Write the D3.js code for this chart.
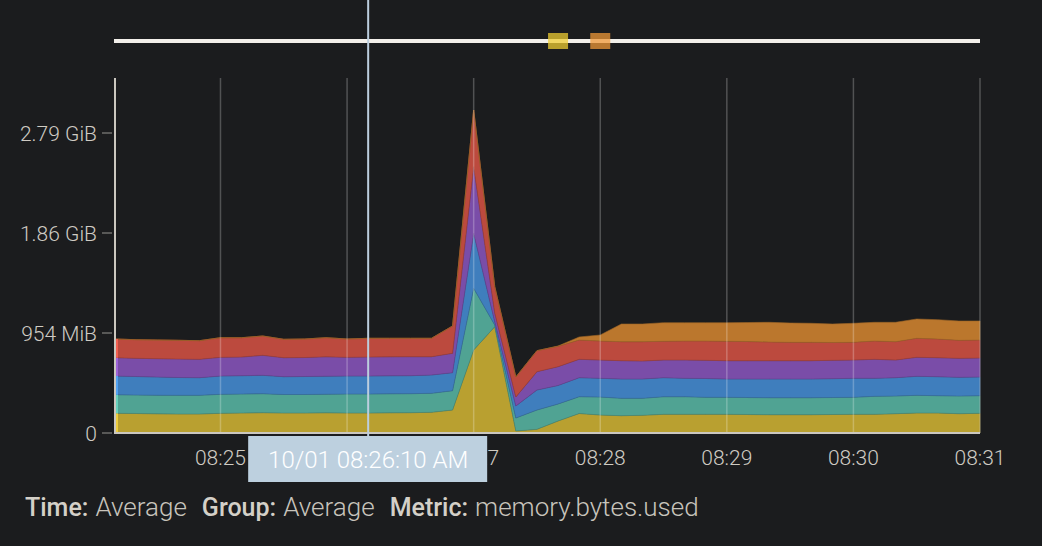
<!DOCTYPE html>
<head>
    <meta charset="utf-8">
    <style>
      body {
          margin: 0;
          background: #1b1c1e;
          font-family: 'Roboto', sans-serif;
      }
      svg { display: block; }
      .tick-label {
        fill: #cfcbc3;
        font-size: 21px;
        font-weight: 300;
      }
      .grid {
        stroke: rgba(255, 255, 255, 0.24);
        stroke-width: 1.5px;
      }
      .axis-line {
        stroke: #cbc7bf;
        stroke-width: 2px;
      }
  </style>
</head>
<body>
<svg id="chart" width="1042" height="546"></svg>
<script src="https://cdn.jsdelivr.net/npm/d3@7"></script>
<script>
  // samples every 10 s from 08:24:10 to 08:31:00, values in MB (1e6 bytes)
  var startTime = new Date(2019, 9, 1, 8, 24, 10);
  var endTime = new Date(2019, 9, 1, 8, 31, 0);
  var cursorTime = new Date(2019, 9, 1, 8, 26, 10);

  var yellow = [197,195,192,190,190,197,200,203,200,200,202,200,200,202,203,207,230,830,1063,20,37,120,195,180,173,177,187,187,187,187,185,183,183,183,185,187,187,193,200,200,193,197];
  var teal   = [186,185,186,187,187,190,190,190,185,185,186,190,190,190,190,190,193,617,17,130,193,170,168,180,174,170,176,176,170,170,170,170,170,170,170,170,180,177,177,173,177,176];
  var blue   = [187,185,182,178,176,183,183,184,178,180,180,180,180,180,180,183,180,550,33,120,200,185,190,187,193,193,190,184,188,183,185,187,187,187,188,190,180,183,190,190,187,187];
  var purple = [183,182,183,185,184,187,187,200,190,190,194,187,190,190,190,183,194,666,87,90,183,188,184,183,183,180,177,183,182,183,183,183,183,183,184,183,190,177,190,190,190,190];
  var red    = [187,186,187,187,186,196,193,193,184,185,191,183,187,185,184,184,273,567,263,200,210,204,193,190,190,193,187,190,193,194,192,187,184,184,178,177,183,183,190,187,180,180];
  var orange = [0,0,0,0,0,0,0,0,0,0,0,0,0,0,0,0,0,0,0,0,0,3,30,60,177,177,186,183,183,186,190,197,193,190,185,190,187,194,193,193,193,190];

  var seriesNames = ["yellow", "teal", "blue", "purple", "red", "orange"];
  var seriesColors = ["#b9a030", "#50a393", "#3f7ebd", "#7a4da8", "#bc4a3e", "#bb772d"];
  var yTicks = [0, 1e9, 2e9, 3e9];
  var yTickLabels = ["0", "954 MiB", "1.86 GiB", "2.79 GiB"];

  var markerTimes = [new Date(2019, 9, 1, 8, 27, 40), new Date(2019, 9, 1, 8, 28, 0)];
  var markerColors = ["rgba(240, 207, 50, 0.74)", "rgba(240, 153, 55, 0.74)"];

  var footer = [["Time:", "Average"], ["Group:", "Average"], ["Metric:", "memory.bytes.used"]];

  var seriesValues = [yellow, teal, blue, purple, red, orange];
  var rows = yellow.map(function(d, i) {
    var row = { time: new Date(startTime.getTime() + i * 10000) };
    seriesNames.forEach(function(k, j) { row[k] = seriesValues[j][i] * 1e6; });
    return row;
  });

  var svg = d3.select("#chart");
  var plotLeft = 115, plotRight = 980, plotTop = 78, plotBottom = 433;

  var x = d3.scaleTime().domain([startTime, endTime]).range([plotLeft, plotRight]);
  var y = d3.scaleLinear().domain([0, 3.55e9]).range([plotBottom, plotTop]);

  svg.append("rect").attr("width", 1042).attr("height", 546).attr("fill", "#1b1c1e");

  var stack = d3.stack().keys(seriesNames);
  var layers = stack(rows);

  var area = d3.area()
      .x(function(d) { return x(d.data.time); })
      .y0(function(d) { return y(d[0]); })
      .y1(function(d) { return y(d[1]); });

  svg.append("g").selectAll("path")
      .data(layers)
    .enter().append("path")
      .attr("d", area)
      .attr("fill", function(d, i) { return seriesColors[i]; })
      .attr("stroke", function(d, i) { return d3.color(seriesColors[i]).darker(0.5); })
      .attr("stroke-width", 0.6);

  // lighter left edge of each band
  svg.append("g").selectAll("line")
      .data(layers.filter(function(l) { return l[0][1] > l[0][0]; }))
    .enter().append("line")
      .attr("x1", plotLeft + 2).attr("x2", plotLeft + 2)
      .attr("y1", function(d) { return y(d[0][0]); })
      .attr("y2", function(d) { return y(d[0][1]); })
      .attr("stroke", function(d) { return d3.color(seriesColors[seriesNames.indexOf(d.key)]).brighter(0.7); })
      .attr("stroke-width", 2);

  // vertical grid
  var minutes = x.ticks(d3.timeMinute.every(1));
  svg.append("g").selectAll("line")
      .data(minutes)
    .enter().append("line")
      .attr("class", "grid")
      .attr("x1", function(d) { return x(d); })
      .attr("x2", function(d) { return x(d); })
      .attr("y1", plotTop)
      .attr("y2", plotBottom);

  // axes
  svg.append("line").attr("class", "axis-line")
      .attr("x1", plotLeft).attr("x2", plotLeft).attr("y1", plotTop).attr("y2", plotBottom + 1);
  svg.append("line").attr("class", "axis-line")
      .attr("x1", plotLeft).attr("x2", plotRight).attr("y1", plotBottom).attr("y2", plotBottom);

  var yAxis = svg.append("g");
  yAxis.selectAll("line")
      .data(yTicks)
    .enter().append("line")
      .attr("x1", 102).attr("x2", 112)
      .attr("y1", function(d) { return y(d); })
      .attr("y2", function(d) { return y(d); })
      .attr("stroke", "#6e6d6b")
      .attr("stroke-width", 1.5);
  yAxis.selectAll("text")
      .data(yTicks)
    .enter().append("text")
      .attr("class", "tick-label")
      .attr("x", 97)
      .attr("y", function(d) { return y(d); })
      .attr("dy", "0.36em")
      .attr("text-anchor", "end")
      .text(function(d, i) { return yTickLabels[i]; });

  var fmt = d3.timeFormat("%H:%M");
  svg.append("g").selectAll("text")
      .data(minutes.filter(function(d) { return x(d) > plotLeft + 20; }))
    .enter().append("text")
      .attr("class", "tick-label")
      .attr("x", function(d) { return x(d); })
      .attr("y", 457)
      .attr("dy", "0.36em")
      .attr("text-anchor", "middle")
      .text(fmt);

  // top timeline with markers
  svg.append("line")
      .attr("x1", plotLeft - 1).attr("x2", plotRight)
      .attr("y1", 41).attr("y2", 41)
      .attr("stroke", "#f2efea")
      .attr("stroke-width", 4);
  svg.append("g").selectAll("rect")
      .data(markerTimes)
    .enter().append("rect")
      .attr("x", function(d) { return x(d) - 10; })
      .attr("y", 33)
      .attr("width", 20)
      .attr("height", 16)
      .attr("fill", function(d, i) { return markerColors[i]; });

  // crosshair + time tooltip
  var cx = x(cursorTime);
  svg.append("line")
      .attr("x1", cx).attr("x2", cx)
      .attr("y1", 0).attr("y2", 437)
      .attr("stroke", "#bccede")
      .attr("stroke-width", 2);
  svg.append("rect")
      .attr("x", cx - 120).attr("y", 436)
      .attr("width", 239).attr("height", 46)
      .attr("fill", "#bdd0df");
  svg.append("text")
      .attr("x", cx).attr("y", 459)
      .attr("dy", "0.36em")
      .attr("text-anchor", "middle")
      .attr("fill", "#ffffff")
      .attr("font-size", "24px")
      .attr("font-weight", 300)
      .text(d3.timeFormat("%m/%d %I:%M:%S %p")(cursorTime));

  // footer
  var ft = svg.append("text")
      .attr("x", 25).attr("y", 516);
  footer.forEach(function(f, i) {
    ft.append("tspan")
        .attr("dx", i === 0 ? 0 : 15)
        .attr("font-size", "25px")
        .attr("font-weight", 500)
        .attr("fill", "#d4d0c8")
        .text(f[0]);
    ft.append("tspan")
        .attr("dx", 7)
        .attr("font-size", "26px")
        .attr("font-weight", 300)
        .attr("fill", "#c8c4bc")
        .text(f[1]);
  });
</script>
</body>
